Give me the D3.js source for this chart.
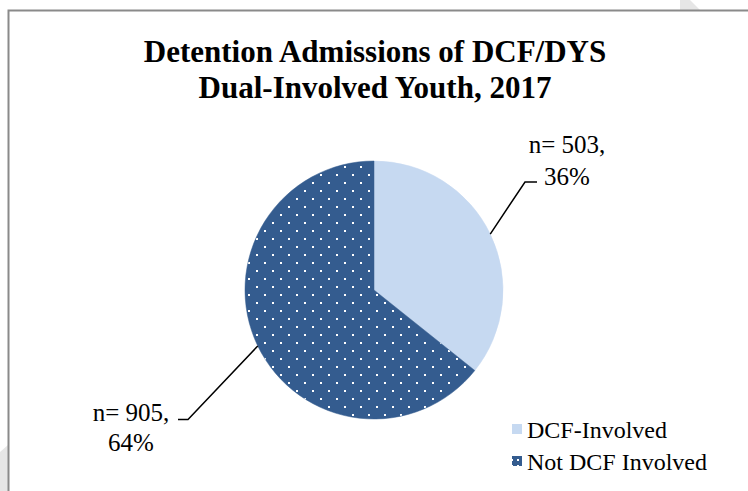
<!DOCTYPE html>
<html><head><meta charset="utf-8">
<script src="https://cdn.jsdelivr.net/npm/d3@7"></script>
<style>html,body{margin:0;padding:0;background:#fff;}svg{display:block;}</style>
</head><body>
<svg id="chart" width="748" height="491"></svg>
<script>
const categories = ["DCF-Involved", "Not DCF Involved"];
const counts = [503, 905];
const percents = ["36%", "64%"];
const titleLines = ["Detention Admissions of DCF/DYS", "Dual-Involved Youth, 2017"];
const colors = ["#C6D9F1", "#345C8F"];

const svg = d3.select("#chart");
const W = 748, H = 491;
const serif = "'Liberation Serif','Times New Roman',serif";

// pattern for dotted slice
const defs = svg.append("defs");
const pat = defs.append("pattern").attr("id","dots").attr("patternUnits","userSpaceOnUse")
  .attr("width",16).attr("height",16).attr("x",2).attr("y",4);
pat.append("rect").attr("width",16).attr("height",16).attr("fill",colors[1]);
pat.append("rect").attr("x",0).attr("y",0).attr("width",2).attr("height",2).attr("fill","#fff");
pat.append("rect").attr("x",8).attr("y",8).attr("width",2).attr("height",2).attr("fill","#fff");

const patL = defs.append("pattern").attr("id","dotsL").attr("patternUnits","userSpaceOnUse")
  .attr("width",6).attr("height",6).attr("x",0).attr("y",0);
patL.append("rect").attr("width",6).attr("height",6).attr("fill",colors[1]);
patL.append("rect").attr("x",1).attr("y",3).attr("width",2).attr("height",2).attr("fill","#fff");

// faint corner shading
svg.append("path").attr("d","M680,0 L690,0 L700,10 L680,10 Z").attr("fill","#e6e6e6");
svg.append("path").attr("d","M0,452 L8,445 L8,491 L0,491 Z").attr("fill","#e6e6e6");

// border (top & left visible)
svg.append("path").attr("d",`M8.5,${H+2} L8.5,10.5 L${W+2},10.5`)
  .attr("fill","none").attr("stroke","#8a8a8a").attr("stroke-width",2);

// title
svg.append("text").attr("x",375).attr("y",62).attr("text-anchor","middle")
  .attr("font-family",serif).attr("font-weight","bold").attr("font-size",31)
  .text(titleLines[0]);
svg.append("text").attr("x",375).attr("y",98).attr("text-anchor","middle")
  .attr("font-family",serif).attr("font-weight","bold").attr("font-size",31)
  .text(titleLines[1]);

// pie
const cx = 374, cy = 290, r = 129;
const pie = d3.pie().sort(null).value(d => d)(counts);
const arc = d3.arc().innerRadius(0).outerRadius(r);
const g = svg.append("g").attr("transform",`translate(${cx},${cy})`);
g.selectAll("path").data(pie).join("path")
  .attr("d",arc)
  .attr("fill",(d,i)=> i===0 ? colors[0] : "url(#dots)")
  .attr("stroke",(d,i)=> i===0 ? colors[0] : colors[1]).attr("stroke-width",0.5);

// leader lines and labels
const mid = d => (d.startAngle + d.endAngle)/2;
const edge = d => [cx + r*Math.sin(mid(d)), cy - r*Math.cos(mid(d))];
const labelCfg = [
  {elbow:[525,182], end:[537,182], tx:567, ty:[153,185]},
  {elbow:[188,419.5], end:[178,419.5], tx:131, ty:[421,451]}
];
pie.forEach((d,i)=>{
  const p = edge(d), c = labelCfg[i];
  svg.append("polyline").attr("points",[p, c.elbow, c.end].map(q=>q.join(",")).join(" "))
    .attr("fill","none").attr("stroke","#000").attr("stroke-width",1.5);
  svg.append("text").attr("x",c.tx).attr("y",c.ty[0]).attr("text-anchor","middle")
    .attr("font-family",serif).attr("font-size",25).text(`n= ${counts[i]},`);
  svg.append("text").attr("x",c.tx).attr("y",c.ty[1]).attr("text-anchor","middle")
    .attr("font-family",serif).attr("font-size",25).text(percents[i]);
});

// legend
const legY = [438, 470];
categories.forEach((c,i)=>{
  svg.append("rect").attr("x",512).attr("y",legY[i]-14).attr("width",10).attr("height",10)
    .attr("fill", i===0 ? colors[0] : "url(#dotsL)");
  svg.append("text").attr("x",527).attr("y",legY[i]).attr("font-family",serif)
    .attr("font-size",24).text(c);
});
</script>
</body></html>
